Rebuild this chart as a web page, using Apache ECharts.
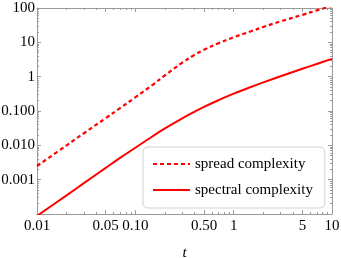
<!DOCTYPE html>
<html><head><meta charset="utf-8">
<script src="https://cdn.jsdelivr.net/npm/echarts@6/dist/echarts.min.js"></script>
<style>html,body{margin:0;padding:0;background:#fff}#c{width:341px;height:258px}</style>
</head><body><div id="c"></div>
<script>
const tValues = [0.01,0.02,0.03,0.05,0.07,0.1,0.15,0.2,0.3,0.4,0.5,0.7,1,1.5,2,3,5,7,10];
const spreadComplexity = [0.0025,0.010,0.0225,0.062,0.122,0.25,0.58,1.09,2.56,4.3,6.1,9.4,14.05,21.0,28.0,40.8,63.2,85,116];
const spectralComplexity = [0.000088,0.00035,0.00079,0.0022,0.0043,0.0085,0.0184,0.031,0.061,0.095,0.132,0.206,0.32,0.50,0.68,1.03,1.70,2.35,3.3];
const seriesNames = ['spread complexity','spectral complexity'];
const xTickValues = [0.01,0.05,0.1,0.5,1,5,10];
const xTickText = ['0.01','0.05','0.10','0.50','1','5','10'];
const yTickValues = [0.0001,0.001,0.01,0.1,1,10,100];
const yTickText = ['','0.001','0.010','0.100','1','10','100'];
const xMinorValues = [];
[0.01,0.1,1].forEach(d=>{for(let k=2;k<=9;k++) xMinorValues.push(d*k);});
const yMinorValues = [];
[0.0001,0.001,0.01,0.1,1,10].forEach(d=>{for(let k=2;k<=9;k++) yMinorValues.push(d*k);});

const FONT = 'Liberation Serif';
const GRAY = '#9a9a9a';
function lookup(vals, texts){
  return function(v){
    for(let i=0;i<vals.length;i++){ if(Math.abs(v-vals[i])<=vals[i]*1e-6) return texts[i]; }
    return '';
  };
}
function xAx(pos, major){
  return {
    type:'log', min:0.01, max:10, position:pos,
    axisLine:{show:major, lineStyle:{color:GRAY,width:1}},
    axisTick:{show:true, inside:true, length: major?4:2, customValues: major?xTickValues:xMinorValues, lineStyle:{color:GRAY,width:1}},
    axisLabel:(major&&pos==='bottom')?{show:true, customValues:xTickValues, formatter:lookup(xTickValues,xTickText), fontFamily:FONT, fontSize:15, color:'#000', margin:5}:{show:false},
    splitLine:{show:false},
    name:(major&&pos==='bottom')?'t':'',
    nameLocation:'middle', nameGap:32, nameMoveOverlap:false,
    nameTextStyle:{fontFamily:FONT, fontSize:15, fontStyle:'italic', color:'#000'}
  };
}
function yAx(pos, major){
  return {
    type:'log', min:0.0001, max:100, position:pos,
    axisLine:{show:major, lineStyle:{color:GRAY,width:1}},
    axisTick:{show:true, inside:true, length: major?4:2, customValues: major?yTickValues:yMinorValues, lineStyle:{color:GRAY,width:1}},
    axisLabel:(major&&pos==='left')?{show:true, customValues:yTickValues, formatter:lookup(yTickValues,yTickText), fontFamily:FONT, fontSize:15, color:'#000', margin:2}:{show:false},
    splitLine:{show:false}
  };
}
const chart = echarts.init(document.getElementById('c'), null, {renderer:'canvas'});
chart.setOption({
  animation:false,
  backgroundColor:'#fff',
  grid:{left:37,right:9,top:8,bottom:44,containLabel:false,outerBoundsMode:'none'},
  xAxis:[xAx('bottom',true),xAx('bottom',false),xAx('top',true),xAx('top',false)],
  yAxis:[yAx('left',true),yAx('left',false),yAx('right',true),yAx('right',false)],
  legend:{
    data:seriesNames, orient:'vertical', left:143, top:147,
    padding:[8,12,9,9], itemGap:8, itemWidth:37, itemHeight:18,
    itemStyle:{color:'rgba(0,0,0,0)', borderWidth:0},
    backgroundColor:'#fff', borderColor:'#cfcfcf', borderWidth:1, borderRadius:5,
    textStyle:{fontFamily:FONT, fontSize:15, color:'#000', lineHeight:18}
  },
  series:[
    {name:seriesNames[0], type:'line', xAxisIndex:0, yAxisIndex:0, symbol:'none', smooth:0.4, clip:true,
     data:tValues.map((t,i)=>[t,spreadComplexity[i]]),
     lineStyle:{color:'#ff0000', width:2.2, type:[4,3]}, itemStyle:{color:'#ff0000'}},
    {name:seriesNames[1], type:'line', xAxisIndex:0, yAxisIndex:0, symbol:'none', smooth:0.4, clip:true,
     data:tValues.map((t,i)=>[t,spectralComplexity[i]]),
     lineStyle:{color:'#ff0000', width:2}, itemStyle:{color:'#ff0000'}}
  ]
});
</script></body></html>
